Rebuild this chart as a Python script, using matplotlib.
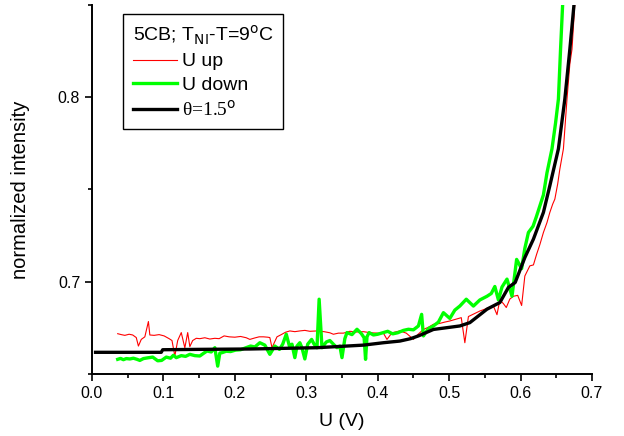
import matplotlib
matplotlib.use('Agg')
from matplotlib import pyplot as plt
from matplotlib.ticker import MultipleLocator

# U up (red, thin)
up_u = [0.036, 0.041, 0.046, 0.052, 0.057, 0.062, 0.065, 0.069, 0.074, 0.079, 0.081,
        0.087, 0.094, 0.101, 0.108, 0.112, 0.116, 0.120, 0.125, 0.130, 0.134, 0.137,
        0.141, 0.146, 0.151, 0.158, 0.165, 0.172, 0.178, 0.185, 0.192, 0.200, 0.208,
        0.216, 0.221, 0.228, 0.234, 0.240, 0.246, 0.249, 0.252, 0.259, 0.265, 0.271,
        0.277, 0.284, 0.291, 0.298, 0.305, 0.315, 0.325, 0.333, 0.338, 0.345, 0.352,
        0.361, 0.370, 0.380, 0.390, 0.400, 0.408, 0.413, 0.420, 0.431, 0.440, 0.446,
        0.450, 0.456, 0.464, 0.471, 0.478, 0.486, 0.494, 0.501, 0.509, 0.517, 0.522,
        0.527, 0.535, 0.543, 0.550, 0.556, 0.562, 0.567, 0.571, 0.576, 0.580, 0.585,
        0.590, 0.596, 0.6015, 0.606, 0.613, 0.618, 0.6225, 0.627, 0.632, 0.637, 0.641,
        0.645, 0.648, 0.652, 0.655, 0.660, 0.665, 0.669, 0.672, 0.676, 0.678]
up_i = [0.6717, 0.6712, 0.6708, 0.6714, 0.6710, 0.6696, 0.6650, 0.6686, 0.6700, 0.6783, 0.6710,
        0.6708, 0.6712, 0.6705, 0.6690, 0.6680, 0.6596, 0.6680, 0.6723, 0.6640, 0.6723, 0.6647,
        0.6680, 0.6692, 0.6690, 0.6695, 0.6688, 0.6692, 0.6690, 0.6705, 0.6700, 0.6698, 0.6702,
        0.6695, 0.6686, 0.6694, 0.6700, 0.6700, 0.6698, 0.6696, 0.6641, 0.6700, 0.6712, 0.6725,
        0.6732, 0.6728, 0.6732, 0.6735, 0.6730, 0.6732, 0.6728, 0.6722, 0.6714, 0.6720, 0.6720,
        0.6730, 0.6726, 0.6728, 0.6722, 0.6720, 0.6720, 0.6686, 0.6722, 0.6732, 0.6720, 0.6700,
        0.6686, 0.6712, 0.6740, 0.6752, 0.6768, 0.6772, 0.6780, 0.6786, 0.6795, 0.6804, 0.6668,
        0.6810, 0.6825, 0.6840, 0.6850, 0.6860, 0.6867, 0.6820, 0.6900, 0.6880, 0.6859, 0.6905,
        0.6920, 0.6925, 0.6870, 0.7030, 0.7085, 0.7090, 0.7148, 0.7200, 0.7266, 0.7320, 0.7375,
        0.7420, 0.7447, 0.7530, 0.7610, 0.7720, 0.7990, 0.8180, 0.8260, 0.8510, 0.8600]

# U down (green, thick)
down_u = [0.036, 0.040, 0.044, 0.048, 0.053, 0.058, 0.063, 0.067, 0.072, 0.078, 0.085, 0.092,
          0.0975, 0.104, 0.110, 0.114, 0.118, 0.125, 0.131, 0.137, 0.144, 0.151, 0.156, 0.161,
          0.167, 0.172, 0.176, 0.179, 0.182, 0.188, 0.194, 0.201, 0.208, 0.215, 0.222, 0.228,
          0.235, 0.242, 0.249, 0.256, 0.2625, 0.267, 0.272, 0.277, 0.280, 0.284, 0.287, 0.291,
          0.294, 0.298, 0.302, 0.3075, 0.311, 0.315, 0.318, 0.322, 0.328, 0.333, 0.338, 0.343,
          0.347, 0.350, 0.354, 0.357, 0.364, 0.371, 0.377, 0.381, 0.383, 0.385, 0.388, 0.394,
          0.400, 0.407, 0.414, 0.421, 0.428, 0.436, 0.443, 0.450, 0.457, 0.4615, 0.464, 0.471,
          0.478, 0.485, 0.492, 0.501, 0.508, 0.515, 0.524, 0.534, 0.543, 0.553, 0.559, 0.564,
          0.569, 0.574, 0.581, 0.588, 0.5945, 0.6015, 0.606, 0.611, 0.6175, 0.622, 0.627,
          0.632, 0.637, 0.644, 0.649, 0.653, 0.656, 0.659, 0.661]
down_i = [0.6578, 0.6583, 0.6576, 0.6582, 0.6580, 0.6584, 0.6578, 0.6572, 0.6582, 0.6586, 0.6590, 0.6570,
          0.6572, 0.6590, 0.6584, 0.6600, 0.6587, 0.6598, 0.6594, 0.6605, 0.6598, 0.6596, 0.6610, 0.6623,
          0.6618, 0.6641, 0.6541, 0.6612, 0.6614, 0.6622, 0.6620, 0.6628, 0.6630, 0.6640, 0.6650, 0.6645,
          0.6668, 0.6655, 0.6605, 0.6650, 0.6632, 0.6660, 0.6714, 0.6641, 0.6660, 0.6587, 0.6650, 0.6668,
          0.6640, 0.6580, 0.6660, 0.6686, 0.6660, 0.6641, 0.6904, 0.6641, 0.6672, 0.6680, 0.6660, 0.6641,
          0.6650, 0.6587, 0.6690, 0.6723, 0.6712, 0.6741, 0.6718, 0.6695, 0.6578, 0.6700, 0.6723, 0.6710,
          0.6714, 0.6722, 0.6730, 0.6716, 0.6722, 0.6735, 0.6741, 0.6738, 0.6759, 0.6822, 0.6705, 0.6745,
          0.6759, 0.6780, 0.6831, 0.6800, 0.6845, 0.6867, 0.6904, 0.6867, 0.6900, 0.6920, 0.6935, 0.6973,
          0.6900, 0.6970, 0.7013, 0.6920, 0.7120, 0.7070, 0.7180, 0.7266, 0.7300, 0.7350, 0.7410,
          0.7470, 0.7590, 0.7720, 0.7860, 0.7990, 0.8260, 0.8510, 0.8600]

# theta = 1.5 deg model (black)
fit_u = [0.005, 0.097, 0.099, 0.150, 0.221, 0.315, 0.380, 0.408, 0.431, 0.446, 0.457,
         0.478, 0.515, 0.529, 0.553, 0.571, 0.583, 0.5925, 0.606, 0.618, 0.632, 0.641,
         0.653, 0.662, 0.669, 0.675, 0.677]
fit_i = [0.6616, 0.6616, 0.6630, 0.6632, 0.6634, 0.6641, 0.6655, 0.6668, 0.6677, 0.6690, 0.6705,
         0.6740, 0.6759, 0.6777, 0.6850, 0.6886, 0.6968, 0.6995, 0.7130, 0.7230, 0.7375, 0.7520,
         0.7720, 0.7990, 0.8260, 0.8510, 0.8600]

fig = plt.figure(figsize=(6.24, 4.36), dpi=100)
ax = fig.add_axes([0.1474, 0.1429, 0.8013, 0.8456])

ax.plot(up_u, up_i, color='#ff0000', lw=0.8, label='U up')
ax.plot(down_u, down_i, color='#00ff00', lw=2.4, label='U down')
ax.plot(fit_u, fit_i, color='black', lw=2.4, label='θ=1.5$^{\\rm o}$')

ax.set_xlim(0.0, 0.7)
ax.set_ylim(0.65, 0.85)
ax.xaxis.set_minor_locator(MultipleLocator(0.05))
ax.yaxis.set_minor_locator(MultipleLocator(0.05))
ax.set_yticks([0.7, 0.8])
ax.set_xticks([0.0, 0.1, 0.2, 0.3, 0.4, 0.5, 0.6, 0.7])
ax.set_xticklabels(['0.0', '0.1', '0.2', '0.3', '0.4', '0.5', '0.6', '0.7'])

for s in ['top', 'right']:
    ax.spines[s].set_visible(False)
for s in ['left', 'bottom']:
    ax.spines[s].set_linewidth(1.4)
ax.tick_params(which='major', direction='out', length=5, width=1.2, labelsize=11.5)
ax.tick_params(which='minor', direction='out', length=3, width=1.2)
for lab in ax.get_xticklabels() + ax.get_yticklabels():
    lab.set_family('Liberation Sans')

ax.set_xlabel('U (V)', fontsize=14, family='Liberation Sans', labelpad=9)
ax.set_ylabel('normalized intensity', fontsize=14.5, family='Liberation Sans', labelpad=20)

leg = ax.legend(loc='upper left', bbox_to_anchor=(0.062, 0.976), borderaxespad=0,
                title=r'5CB; T$_{\rm NI}$-T=9$^{\rm o}$C', alignment='left',
                prop={'family': 'Liberation Sans', 'size': 14}, title_fontsize=14,
                fancybox=False, framealpha=1, edgecolor='black',
                handlelength=2.3, handletextpad=0.25, labelspacing=0.3,
                borderpad=0.5)
leg.get_frame().set_linewidth(1.0)
leg.get_title().set_family('Liberation Sans')
leg.get_texts()[2].set_family('Liberation Serif')

fig.savefig('out.png', dpi=100)
